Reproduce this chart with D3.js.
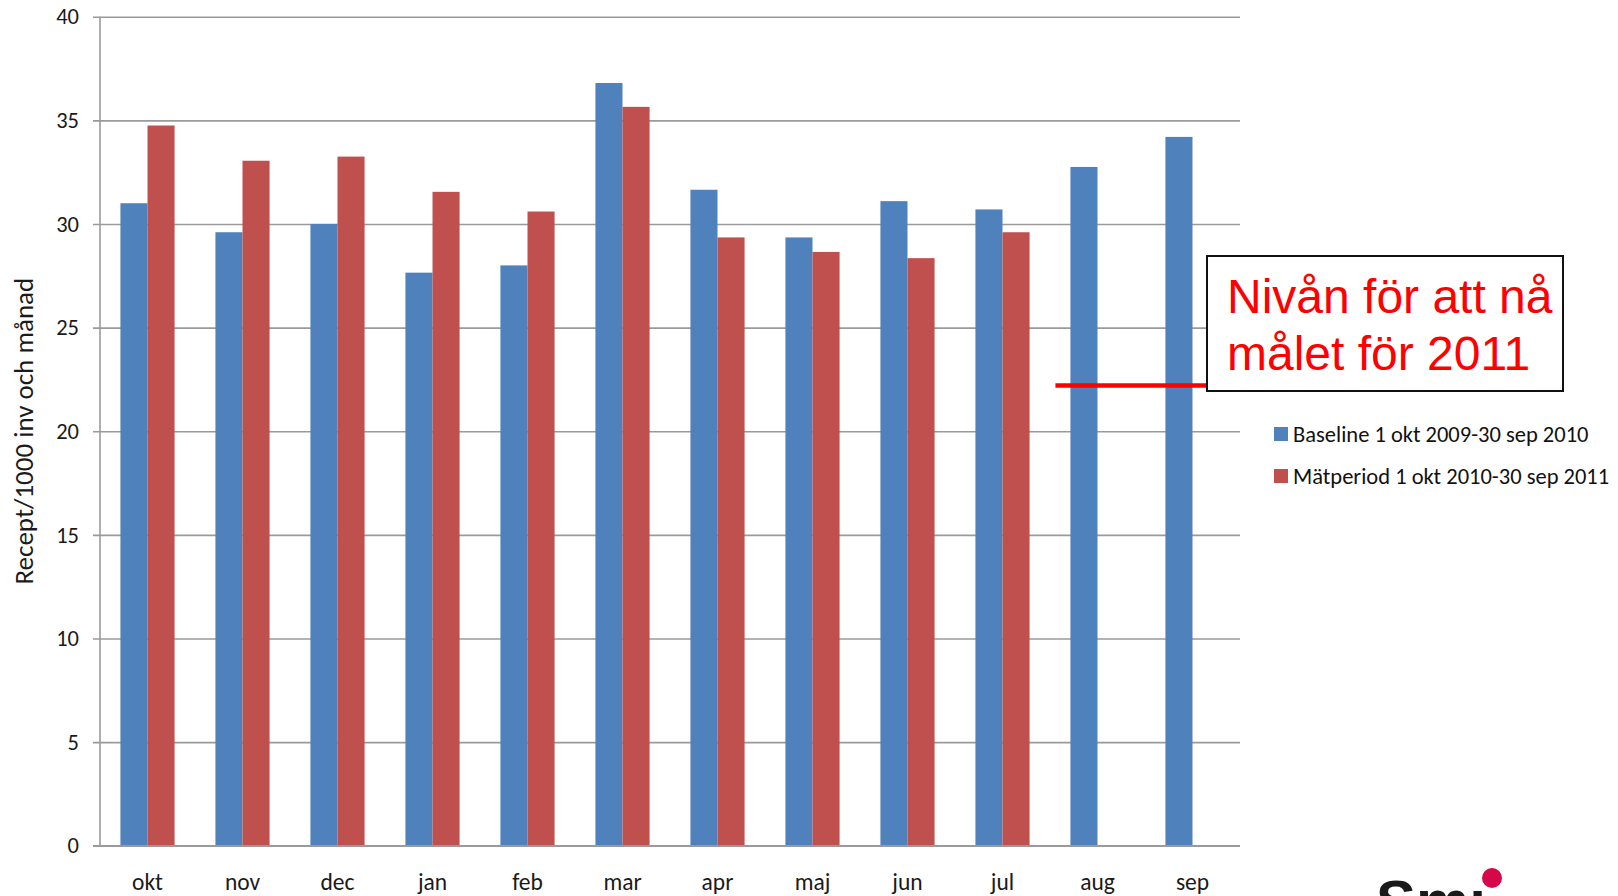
<!DOCTYPE html>
<html>
<head>
<meta charset="utf-8">
<script src="https://cdn.jsdelivr.net/npm/d3@7"></script>
<style>
  body { margin: 0; background: #fff; }
  svg { display: block; }
</style>
</head>
<body>
<svg></svg>
<script>
  // data
  var months = ["okt", "nov", "dec", "jan", "feb", "mar", "apr", "maj", "jun", "jul", "aug", "sep"];
  var baseline = [31.0, 29.6, 30.0, 27.65, 28.0, 36.8, 31.65, 29.35, 31.1, 30.7, 32.75, 34.2];
  var matperiod = [34.75, 33.05, 33.25, 31.55, 30.6, 35.65, 29.35, 28.65, 28.35, 29.6, null, null];
  var seriesNames = ["Baseline 1 okt 2009-30 sep 2010", "Mätperiod 1 okt 2010-30 sep 2011"];
  var yTicks = [0, 5, 10, 15, 20, 25, 30, 35, 40];
  var targetLevel = 22.2;
  var annotationLines = ["Nivån för att nå", "målet för 2011"];

  var width = 1618, height = 896;
  var plotLeft = 100, plotRight = 1240, plotTop = 16.7, plotBottom = 845.7;
  var colors = ["#4F81BD", "#C0504D"];
  var font = 'Carlito, Calibri, Lato, "Open Sans", sans-serif';

  var svg = d3.select("svg").attr("width", width).attr("height", height);

  var x = d3.scaleBand().domain(months).range([plotLeft, plotRight])
            .paddingInner(0.43).paddingOuter(0.215);
  var x1 = d3.scaleBand().domain([0, 1]).range([0, x.bandwidth()]);
  var y = d3.scaleLinear().domain([0, 40]).range([plotBottom, plotTop]);

  // gridlines + y axis
  var yAxis = d3.axisLeft(y).tickValues(yTicks).tickSize(-(plotRight - plotLeft + 7)).tickPadding(14);
  var gy = svg.append("g")
      .attr("transform", `translate(${plotLeft - 7},0)`)
      .call(yAxis);
  gy.select(".domain").remove();
  gy.selectAll(".tick line").attr("stroke", "#9a9a9a").attr("stroke-width", 1.6);
  gy.selectAll(".tick text")
      .attr("fill", "#1a1a1a").style("font-family", font).style("font-size", "22.5px");

  // bars
  var rows = months.map((m, i) => ({m: m, vals: [baseline[i], matperiod[i]]}));
  var groups = svg.append("g").selectAll("g")
      .data(rows)
      .enter().append("g")
      .attr("transform", d => `translate(${x(d.m)},0)`);
  groups.selectAll("rect")
      .data(d => d.vals.map((v, k) => ({k: k, v: v})).filter(d => d.v != null))
      .enter().append("rect")
      .attr("x", d => x1(d.k))
      .attr("width", x1.bandwidth())
      .attr("y", d => y(d.v))
      .attr("height", d => y(0) - y(d.v))
      .attr("fill", d => colors[d.k]);

  // axis lines
  svg.append("line").attr("x1", plotLeft).attr("x2", plotLeft).attr("y1", plotTop).attr("y2", plotBottom)
     .attr("stroke", "#9a9a9a").attr("stroke-width", 1.6);
  svg.append("line").attr("x1", plotLeft - 7).attr("x2", plotRight).attr("y1", plotBottom).attr("y2", plotBottom)
     .attr("stroke", "#9a9a9a").attr("stroke-width", 1.6);

  // x labels
  svg.append("g").selectAll("text")
      .data(months)
      .enter().append("text")
      .attr("x", d => x(d) + x.bandwidth() / 2)
      .attr("y", 890)
      .attr("text-anchor", "middle")
      .attr("fill", "#1a1a1a")
      .style("font-family", font).style("font-size", "23.5px")
      .text(d => d);

  // y title
  svg.append("text")
      .attr("transform", `translate(33,${(plotTop + plotBottom) / 2}) rotate(-90)`)
      .attr("text-anchor", "middle")
      .attr("fill", "#1a1a1a")
      .style("font-family", font).style("font-size", "27px")
      .text("Recept/1000 inv och månad");

  // legend
  var legend = svg.append("g").selectAll("g")
      .data(seriesNames)
      .enter().append("g")
      .attr("transform", (d, i) => `translate(1274,${434 + i * 42})`);
  legend.append("rect").attr("x", 0).attr("y", -7).attr("width", 14).attr("height", 14)
      .attr("fill", (d, i) => colors[i]);
  legend.append("text").attr("x", 19).attr("y", 7.5)
      .attr("fill", "#111")
      .style("font-family", font).style("font-size", "22.5px")
      .text(d => d);

  // target level line + annotation box
  var boxX = 1207, boxY = 256, boxW = 356, boxH = 135;
  svg.append("line")
      .attr("x1", x("aug") - 15).attr("x2", boxX)
      .attr("y1", y(targetLevel)).attr("y2", y(targetLevel))
      .attr("stroke", "#ff0000").attr("stroke-width", 4.5);
  svg.append("rect")
      .attr("x", boxX).attr("y", boxY).attr("width", boxW).attr("height", boxH)
      .attr("fill", "#fff").attr("stroke", "#111").attr("stroke-width", 2);
  svg.append("g").selectAll("text")
      .data(annotationLines)
      .enter().append("text")
      .attr("x", 1227)
      .attr("y", (d, i) => 313 + i * 57)
      .attr("fill", "#ff0000")
      .style("font-family", '"Liberation Sans", Arial, sans-serif')
      .style("font-size", "48px")
      .text(d => d);

  // partial logo at the bottom
  svg.append("text")
      .attr("x", 1376).attr("y", 922)
      .attr("fill", "#1a1a1a")
      .style("font-family", '"Liberation Sans", Arial, sans-serif')
      .style("font-weight", "bold").style("font-size", "60px")
      .text("Smı");
  svg.append("circle").attr("cx", 1492).attr("cy", 878).attr("r", 10).attr("fill", "#d6084a");
</script>
</body>
</html>
